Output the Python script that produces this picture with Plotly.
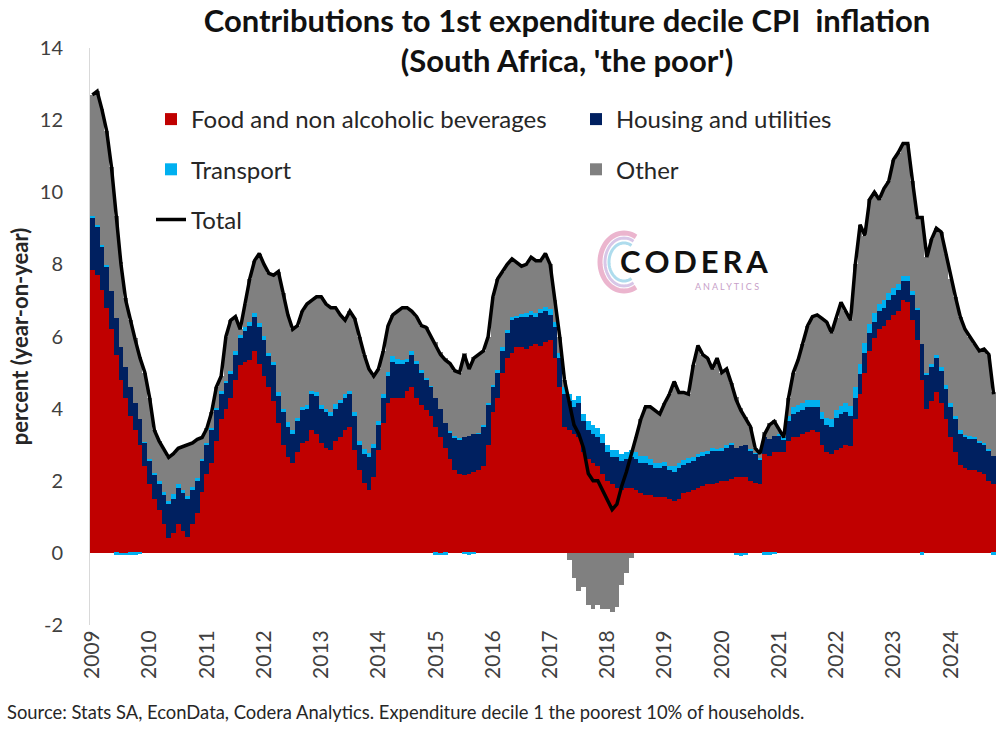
import math
import plotly.graph_objects as go

# ---- data: monthly contributions (percentage points), Jan 2009 - Oct 2024 ----
years = [str(y) for y in range(2009, 2025)]
months = [f"{2009 + i // 12}-{i % 12 + 1:02d}" for i in range(190)]
y_ticks = [-2, 0, 2, 4, 6, 8, 10, 12, 14]
y_tick_text = ["-2", "0", "2", "4", "6", "8", "10", "12", "14"]

food = [
    7.85, 7.7, 7.3, 6.8, 6.2, 5.5, 4.8, 4.3, 3.8, 3.4, 3.0, 2.4,          # 2009
    1.9, 1.5, 1.2, 0.8, 0.4, 0.55, 0.8, 0.6, 0.45, 0.8, 1.1, 1.7,         # 2010
    2.2, 2.5, 3.1, 3.7, 4.0, 4.3, 4.8, 5.2, 5.3, 5.35, 5.6, 5.25,         # 2011
    4.9, 4.6, 4.2, 3.6, 3.0, 2.65, 2.5, 2.8, 3.05, 3.1, 3.4, 3.3,         # 2012
    3.05, 2.9, 2.85, 3.1, 3.2, 3.4, 3.5, 2.85, 2.3, 1.95, 1.75, 2.1,      # 2013
    2.85, 3.6, 4.15, 4.3, 4.3, 4.3, 4.5, 4.6, 4.3, 4.1, 3.95, 3.8,        # 2014
    3.5, 3.2, 2.9, 2.6, 2.3, 2.2, 2.15, 2.2, 2.25, 2.3, 2.4, 3.0,         # 2015
    3.9, 4.3, 5.0, 5.4, 5.55, 5.7, 5.7, 5.65, 5.75, 5.8, 5.75, 5.85,      # 2016
    5.9, 5.4, 4.6, 3.5, 3.4, 3.3, 3.2, 2.8, 2.6, 2.5, 2.4, 2.2,           # 2017
    2.0, 1.9, 1.8, 1.75, 1.8, 1.8, 1.75, 1.65, 1.6, 1.6, 1.55, 1.55,      # 2018
    1.55, 1.5, 1.45, 1.5, 1.65, 1.7, 1.75, 1.8, 1.85, 1.9, 1.9, 1.95,     # 2019
    2.0, 2.0, 2.05, 2.1, 2.1, 2.1, 2.0, 1.95, 1.9, 2.75, 2.7, 2.8,        # 2020
    2.8, 2.8, 3.1, 3.2, 3.2, 3.3, 3.35, 3.4, 3.35, 3.0, 2.8, 2.75,        # 2021
    2.85, 2.9, 3.0, 2.95, 3.7, 4.4, 5.0, 5.6, 5.95, 6.2, 6.3, 6.45,       # 2022
    6.6, 6.7, 7.0, 6.95, 6.45, 5.9, 4.8, 4.0, 4.2, 4.45, 4.15, 3.7,       # 2023
    3.2, 2.8, 2.45, 2.35, 2.3, 2.3, 2.25, 2.2, 2.0, 1.9,                  # 2024
]

housing = [
    1.45, 1.35, 1.2, 1.15, 1.05, 1.0, 0.9, 0.85, 0.8, 0.75, 0.7, 0.65,
    0.65, 0.65, 0.7, 0.8, 0.95, 0.95, 1.0, 1.05, 1.05, 0.95, 0.9, 0.85,
    0.8, 0.9, 0.85, 0.7, 0.7, 0.65, 0.7, 0.75, 0.85, 0.95, 0.95, 1.0,
    1.0, 0.85, 1.0, 0.75, 0.9, 0.85, 0.8, 0.85, 0.9, 0.9, 1.0, 1.05,
    0.95, 1.0, 0.95, 0.9, 0.95, 0.9, 0.9, 0.95, 0.7, 0.8, 0.9, 0.8,
    0.7, 0.7, 0.75, 1.0, 0.95, 0.95, 0.8, 0.9, 0.95, 0.9, 0.85, 0.8,
    0.8, 0.8, 0.7, 0.75, 0.9, 0.95, 1.05, 1.05, 1.05, 1.0, 1.1, 1.1,
    0.7, 0.7, 0.6, 0.7, 0.9, 0.8, 0.85, 0.9, 0.85, 0.75, 0.9, 0.85,
    0.7, 0.85, 0.8, 0.9, 0.8, 0.75, 0.95, 0.85, 0.8, 0.8, 0.8, 0.85,
    0.8, 0.75, 0.85, 0.8, 0.8, 0.85, 0.85, 0.85, 0.9, 0.85, 0.8, 0.8,
    0.85, 0.8, 0.8, 0.85, 0.8, 0.8, 0.8, 0.85, 0.85, 0.85, 0.95, 0.9,
    0.85, 0.9, 0.95, 0.8, 0.85, 0.9, 0.85, 0.8, 0.7, 0.45, 0.45, 0.45,
    0.45, 0.35, 0.55, 0.65, 0.7, 0.65, 0.7, 0.65, 0.7, 0.7, 0.75, 0.75,
    0.9, 0.95, 0.9, 0.85, 0.6, 0.55, 0.55, 0.5, 0.45, 0.5, 0.5, 0.55,
    0.55, 0.6, 0.55, 0.6, 0.7, 0.85, 1.0, 0.95, 0.95, 0.95, 0.9, 0.85,
    0.85, 0.9, 0.85, 0.85, 0.85, 0.85, 0.8, 0.8, 0.85, 0.8,
]

transport = [
    0.05, 0.05, 0.03, 0.02, 0.0, -0.05, -0.06, -0.06, -0.05, -0.05, -0.04, 0.02,
    0.05, 0.06, 0.08, 0.1, 0.1, 0.12, 0.12, 0.1, 0.08, 0.08, 0.07, 0.06,
    0.06, 0.06, 0.07, 0.08, 0.08, 0.08, 0.1, 0.1, 0.1, 0.1, 0.1, 0.12,
    0.12, 0.1, 0.1, 0.1, 0.1, 0.12, 0.1, 0.1, 0.1, 0.1, 0.1, 0.1,
    0.1, 0.1, 0.1, 0.12, 0.1, 0.1, 0.1, 0.1, 0.1, 0.12, 0.12, 0.12,
    0.1, 0.1, 0.12, 0.15, 0.12, 0.1, 0.08, 0.1, 0.08, 0.06, 0.04, 0.02,
    -0.05, -0.06, -0.05, 0.02, 0.04, 0.04, -0.04, -0.05, -0.04, 0.03, 0.05, 0.06,
    0.06, 0.08, 0.1, 0.08, 0.08, 0.08, 0.08, 0.1, 0.1, 0.1, 0.12, 0.12,
    0.15, 0.15, 0.15, 0.2, 0.2, 0.2, 0.2, 0.2, 0.25, 0.25, 0.25, 0.25,
    0.2, 0.2, 0.2, 0.2, 0.2, 0.2, 0.2, 0.18, 0.18, 0.15, 0.15, 0.15,
    0.12, 0.12, 0.15, 0.15, 0.12, 0.12, 0.1, 0.1, 0.1, 0.08, 0.05, 0.02,
    0.05, 0.08, 0.05, -0.07, -0.08, -0.06, 0.02, 0.03, 0.02, -0.05, -0.05, -0.04,
    0.05, 0.05, 0.15, 0.2, 0.2, 0.2, 0.2, 0.2, 0.2, 0.2, 0.2, 0.2,
    0.22, 0.22, 0.25, 0.28, 0.3, 0.3, 0.28, 0.25, 0.25, 0.2, 0.2, 0.2,
    0.2, 0.15, 0.12, 0.12, 0.1, 0.05, -0.05, 0.05, 0.08, 0.1, 0.1, 0.1,
    0.1, 0.1, 0.1, 0.08, 0.08, 0.06, 0.05, 0.05, 0.03, -0.05,
]

total = [
    12.7, 12.8, 12.3, 11.7, 10.7, 9.3, 8.0, 7.0, 6.4, 5.9, 5.4, 5.0,
    4.3, 3.4, 3.1, 2.85, 2.65, 2.75, 2.9, 2.95, 3.0, 3.05, 3.15, 3.2,
    3.45, 3.9, 4.6, 4.9, 6.0, 6.45, 6.55, 6.2, 6.9, 7.6, 8.1, 8.3,
    8.0, 7.75, 7.7, 7.8, 7.2, 6.6, 6.2, 6.3, 6.7, 6.9, 7.0, 7.1,
    7.1, 6.9, 6.8, 6.8, 6.6, 6.45, 6.7, 6.5, 6.0, 5.5, 5.1, 4.9,
    5.1, 5.6, 6.3, 6.6, 6.7, 6.8, 6.8, 6.7, 6.55, 6.3, 6.25, 6.0,
    5.8, 5.5, 5.35, 5.25, 5.05, 5.0, 5.5, 5.1, 5.4, 5.5, 5.6, 6.0,
    7.1, 7.6, 7.8, 8.0, 8.15, 8.05, 7.95, 8.0, 8.2, 8.1, 8.1, 8.3,
    8.0, 7.0, 6.0, 4.8, 4.2, 3.55, 3.3, 2.9, 2.2, 2.0, 2.0, 1.75,
    1.45, 1.2, 1.35, 1.85, 2.25, 2.7, 3.2, 3.7, 4.05, 4.05, 3.95, 3.85,
    4.15, 4.4, 4.75, 4.45, 4.45, 4.4, 5.2, 5.75, 5.5, 5.4, 5.1, 5.4,
    5.0, 5.1, 4.7, 4.25, 3.95, 3.7, 3.5, 2.9, 2.75, 3.3, 3.55, 3.65,
    3.4, 3.2, 4.3, 5.0, 5.35, 5.8, 6.3, 6.55, 6.6, 6.5, 6.4, 6.1,
    6.5, 6.95, 6.7, 6.45, 8.0, 9.1, 8.8, 9.8, 10.0, 9.8, 10.1, 10.3,
    10.9, 11.1, 11.35, 11.35, 10.3, 9.3, 9.3, 8.2, 8.7, 9.0, 8.9, 8.3,
    7.6, 7.1, 6.55, 6.2, 6.0, 5.8, 5.6, 5.65, 5.5, 4.4,
]

# "Other" is everything in the headline rate not covered by the three named groups
other = [round(t - f - h - tr, 3) for t, f, h, tr in zip(total, food, housing, transport)]

# ---- styling ----
FONT = "Lato, 'Open Sans', sans-serif"
TXT = "#262626"

fig = go.Figure()

bar_series = [
    ("Food and non alcoholic beverages", food, "#C00000", "legend"),
    ("Housing and utilities", housing, "#002060", "legend2"),
    ("Transport", transport, "#00B0F0", "legend"),
    ("Other", other, "#808080", "legend2"),
]
for name, vals, color, leg in bar_series:
    fig.add_trace(go.Bar(
        x=months, y=vals, name=name, legend=leg, legendgroup=name,
        marker=dict(color=color, line=dict(width=0)),
    ))

fig.add_trace(go.Scatter(
    x=months, y=total, name="Total", legend="legend", legendgroup="Total",
    mode="lines", line=dict(color="black", width=3.5),
))

W, H = 996, 738
ML, MR, MT, MB = 90, 0, 48, 113
PW, PH = W - ML - MR, H - MT - MB


def px_to_paper(x, y):
    return (x - ML) / PW, (H - MB - y) / PH


legend_common = dict(
    orientation="v", bgcolor="rgba(0,0,0,0)", borderwidth=0,
    font=dict(family=FONT, size=24, color=TXT),
    tracegroupgap=16, itemwidth=30,
    xanchor="left", yanchor="top",
)
lx1, ly1 = px_to_paper(151, 97)
lx2, ly2 = px_to_paper(576, 97)

fig.update_layout(
    width=W, height=H,
    margin=dict(l=ML, r=MR, t=MT, b=MB),
    paper_bgcolor="white", plot_bgcolor="white",
    barmode="relative", bargap=0,
    legend=dict(x=lx1, y=ly1, **legend_common),
    legend2=dict(x=lx2, y=ly2, **legend_common),
    title=dict(
        text="Contributions to 1st expenditure decile CPI\u00a0 inflation<br>(South Africa, 'the poor')",
        x=567 / W, xanchor="center", xref="container",
        y=1 - 32 / H, yanchor="top", yref="container",
        font=dict(family=FONT, size=31, color="#111111", weight="bold"),
    ),
    xaxis=dict(
        type="category", range=[-0.5, len(months) - 0.5],
        tickvals=[months[12 * i] for i in range(len(years))], ticktext=years,
        tickangle=-90, ticks="", showline=False, showgrid=False, zeroline=False,
        tickfont=dict(family=FONT, size=21, color="#404040"),
    ),
    yaxis=dict(
        range=[-2, 14], tickvals=y_ticks, ticktext=y_tick_text,
        ticks="", showgrid=False, zeroline=False,
        showline=True, linecolor="#d9d9d9", linewidth=1,
        tickfont=dict(family=FONT, size=20, color="#404040"),
        ticklabelstandoff=22,
        title=dict(text="<b>percent (year-on-year)</b>", standoff=5,
                   font=dict(family=FONT, size=22, color=TXT)),
    ),
    showlegend=True,
)

# source note
sx, sy = px_to_paper(5, 712)
fig.add_annotation(
    text="Source: Stats SA, EconData, Codera Analytics. Expenditure decile 1 the poorest 10% of households.",
    x=sx, y=sy, xref="paper", yref="paper", xanchor="left", yanchor="middle",
    showarrow=False, font=dict(family=FONT, size=18.4, color=TXT),
)

# Codera Analytics logo: swirl mark plus word mark
cx, cy = 624, 262
for rx, ry, col, w in [(24, 29, "rgba(226,150,185,0.7)", 5),
                       (19, 24, "rgba(190,160,215,0.6)", 3),
                       (15, 19, "rgba(140,205,230,0.7)", 3)]:
    pts = []
    for k in range(41):
        a = math.radians(60 + k * 240 / 40)
        pts.append(px_to_paper(cx + rx * math.cos(a), cy - ry * math.sin(a)))
    path = "M " + " L ".join(f"{p[0]:.5f},{p[1]:.5f}" for p in pts)
    fig.add_shape(type="path", path=path, xref="paper", yref="paper",
                  line=dict(color=col, width=w))

lgx, lgy = px_to_paper(694, 261)
fig.add_annotation(
    text="<b>C\u2009O\u2009D\u2009E\u2009R\u2009A</b>", x=lgx, y=lgy, xref="paper", yref="paper",
    xanchor="center", yanchor="middle", showarrow=False,
    font=dict(family=FONT, size=31, color="#111111"),
)
agx, agy = px_to_paper(727, 286)
fig.add_annotation(
    text="A N A L Y T I C S", x=agx, y=agy, xref="paper", yref="paper",
    xanchor="center", yanchor="middle", showarrow=False,
    font=dict(family=FONT, size=9, color="#c7a0c8"),
)

fig.write_html("out.html")
